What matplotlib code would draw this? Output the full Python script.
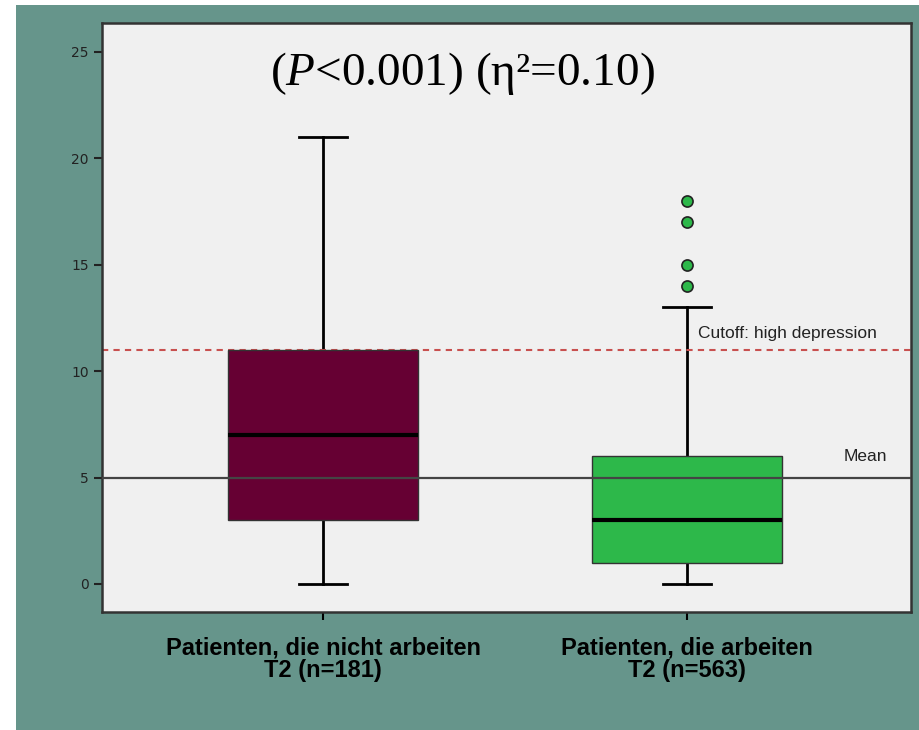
import matplotlib
matplotlib.use("Agg")
import matplotlib.pyplot as plt
from matplotlib.patches import Rectangle

# box statistics
groups = ["Patienten, die nicht arbeiten\nT2 (n=181)", "Patienten, die arbeiten\nT2 (n=563)"]
q1 = [3, 1]
med = [7, 3]
q3 = [11, 6]
whislo = [0, 0]
whishi = [21, 13]
fliers = [[], [14, 15, 17, 18]]
box_colors = ["#660033", "#2db84a"]

mean_value = 5
cutoff_value = 11
yticks = [0, 5, 10, 15, 20, 25]

plt.rcParams["mathtext.fontset"] = "custom"
plt.rcParams["mathtext.it"] = "Liberation Serif:italic"
plt.rcParams["mathtext.rm"] = "Liberation Serif"

fig = plt.figure(figsize=(9.2, 7.3), dpi=100)
fig.patch.set_facecolor("white")
bg = Rectangle((16 / 920, 0), 1, 725 / 730, transform=fig.transFigure,
               facecolor="#66958b", edgecolor="none", zorder=-10)
fig.add_artist(bg)

ax = fig.add_axes([102 / 920, 118 / 730, 809 / 920, 589 / 730])
ax.set_facecolor("#f0f0f0")

stats = []
for i in range(len(groups)):
    stats.append(dict(q1=q1[i], med=med[i], q3=q3[i], whislo=whislo[i],
                      whishi=whishi[i], fliers=fliers[i], label=groups[i]))

bp = ax.bxp(stats, positions=[0, 1], widths=0.52, patch_artist=True,
            showfliers=True,
            boxprops=dict(edgecolor="#333333", linewidth=1.0),
            medianprops=dict(color="black", linewidth=3),
            whiskerprops=dict(color="black", linewidth=2),
            capprops=dict(color="black", linewidth=2),
            capwidths=0.13,
            flierprops=dict(marker="o", markerfacecolor="#2db84a",
                            markeredgecolor="#222222", markersize=8,
                            markeredgewidth=1.2))
for patch, c in zip(bp["boxes"], box_colors):
    patch.set_facecolor(c)
    patch.set_zorder(3)
for m in bp["medians"]:
    m.set_zorder(5)

ax.axhline(mean_value, color="#444444", linewidth=1.6, zorder=4)
ax.axhline(cutoff_value, color="#c8504f", linewidth=1.5, linestyle=(0, (3, 2.5)), zorder=2)

ax.text(1.03, 11.75, "Cutoff: high depression", fontsize=12.5, color="#222222",
        va="center", ha="left", family="Liberation Sans")
ax.text(1.43, 5.97, "Mean", fontsize=12.5, color="#222222", va="center", ha="left",
        family="Liberation Sans")

ax.text(0.446, 0.915, r"($\mathit{P}$<0.001) ($\mathrm{\eta}$²=0.10)", transform=ax.transAxes,
        fontsize=34, family="Liberation Serif", ha="center", va="center")

ax.set_xlim(-0.607, 1.615)
ax.set_ylim(-1.32, 26.36)
ax.set_yticks(yticks)
ax.tick_params(axis="y", labelsize=10, colors="#222222", length=6, width=1.5)
ax.tick_params(axis="x", length=6, width=1.5, pad=12)
ax.set_xticks([0, 1])
ax.set_xticklabels(groups, fontsize=17, fontweight="bold", family="Liberation Sans",
                   linespacing=0.95)
for sp in ax.spines.values():
    sp.set_color("#333333")
    sp.set_linewidth(1.8)

fig.savefig("out.png", dpi=100, facecolor=fig.get_facecolor())
